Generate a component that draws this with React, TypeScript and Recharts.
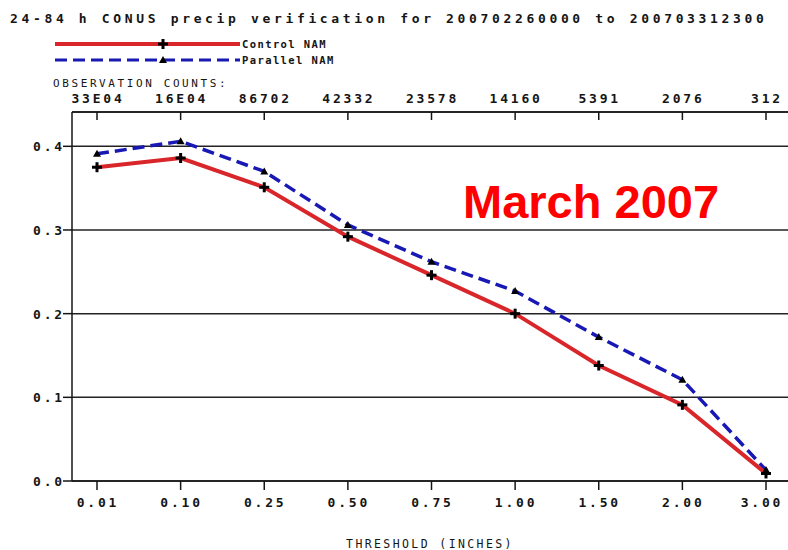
import React from 'react';
import { LineChart, Line, XAxis, YAxis, CartesianGrid } from 'recharts';

const categories = ['0.01', '0.10', '0.25', '0.50', '0.75', '1.00', '1.50', '2.00', '3.00'];
const obsCounts = ['33E04', '16E04', '86702', '42332', '23578', '14160', '5391', '2076', '312'];
const controlNam = [0.375, 0.386, 0.351, 0.292, 0.246, 0.2, 0.138, 0.091, 0.009];
const parallelNam = [0.391, 0.406, 0.37, 0.306, 0.262, 0.227, 0.172, 0.121, 0.013];
const yTicks = [0, 0.1, 0.2, 0.3, 0.4];

const data = categories.map((c, i) => ({ cat: c, control: controlNam[i], parallel: parallelNam[i] }));

const MONO = '"DejaVu Sans Mono", monospace';
const RED = '#d8262a';
const BLUE = '#1818b4';
const INK = '#151515';

const PlusDot = (props: any) => {
  const { cx, cy } = props;
  if (cx == null || cy == null) return null;
  return (
    <g>
      <line x1={cx - 5} y1={cy} x2={cx + 5} y2={cy} stroke="#000" strokeWidth={3} />
      <line x1={cx} y1={cy - 5} x2={cx} y2={cy + 5} stroke="#000" strokeWidth={3} />
    </g>
  );
};

const TriDot = (props: any) => {
  const { cx, cy } = props;
  if (cx == null || cy == null) return null;
  return <polygon points={`${cx - 4},${cy + 3} ${cx + 4},${cy + 3} ${cx},${cy - 4}`} fill="#000" />;
};

const BottomTick = (props: any) => {
  const { x, y, payload, index } = props;
  const shift = index === categories.length - 1 ? -4 : 1;
  return (
    <text x={x + shift} y={y + 17} textAnchor="middle" fontFamily={MONO} fontWeight="bold" fontSize={13} letterSpacing={2.8} fill={INK}>
      {payload.value}
    </text>
  );
};

const TopTick = (props: any) => {
  const { x, y, index } = props;
  return (
    <g>
      <line x1={x} y1={y} x2={x} y2={y + 8} stroke={INK} strokeWidth={1.5} />
      <text x={x + 1} y={y - 9} textAnchor="middle" fontFamily={MONO} fontWeight="bold" fontSize={13} letterSpacing={2.8} fill={INK}>
        {obsCounts[index]}
      </text>
    </g>
  );
};

const LeftTick = (props: any) => {
  const { x, y, payload } = props;
  return (
    <text x={x + 2} y={y + 5} textAnchor="end" fontFamily={MONO} fontWeight="bold" fontSize={13} letterSpacing={2.8} fill={INK}>
      {payload.value.toFixed(1)}
    </text>
  );
};

export default function App() {
  return (
    <div style={{ position: 'absolute', left: 0, top: 0, width: 788, height: 550, background: '#fff' }}>
      <LineChart width={788} height={550} data={data} margin={{ top: 82, right: 0, bottom: 39, left: 0 }}>
        <CartesianGrid vertical={false} stroke="#222" strokeWidth={1.5} />
        <XAxis
          xAxisId="top"
          orientation="top"
          dataKey="cat"
          height={30}
          padding={{ left: 25, right: 22 }}
          axisLine={{ stroke: INK, strokeWidth: 1.5 }}
          tickLine={false}
          tickSize={0}
          tickMargin={0}
          tick={<TopTick />}
          interval={0}
        />
        <XAxis
          dataKey="cat"
          height={30}
          padding={{ left: 25, right: 22 }}
          axisLine={{ stroke: INK, strokeWidth: 1.5 }}
          tickLine={{ stroke: INK, strokeWidth: 1.5 }}
          tickSize={9}
          tickMargin={0}
          tick={<BottomTick />}
          interval={0}
          label={{ value: 'THRESHOLD (INCHES)', position: 'insideBottom', offset: -37, fontFamily: MONO, fontSize: 11.5, letterSpacing: 2.4, fill: INK }}
        />
        <YAxis
          width={72}
          domain={[0, 0.441]}
          ticks={yTicks}
          axisLine={{ stroke: INK, strokeWidth: 1.5 }}
          tickLine={{ stroke: INK, strokeWidth: 1.5 }}
          tickSize={9}
          tickMargin={0}
          tick={<LeftTick />}
          interval={0}
        />
        <Line
          dataKey="parallel"
          stroke={BLUE}
          strokeWidth={3.5}
          strokeDasharray="12 6"
          dot={<TriDot />}
          activeDot={false}
          isAnimationActive={false}
        />
        <Line
          dataKey="control"
          stroke={RED}
          strokeWidth={4}
          dot={<PlusDot />}
          activeDot={false}
          isAnimationActive={false}
        />
      </LineChart>
      <svg width={788} height={110} style={{ position: 'absolute', left: 0, top: 0, pointerEvents: 'none' }}>
        <text x={10} y={23} fontFamily={MONO} fontWeight="bold" fontSize={13} letterSpacing={3.65} fill={INK}>
          24-84 h CONUS precip verification for 200702260000 to 200703312300
        </text>
        <line x1={55} y1={44} x2={240} y2={44} stroke={RED} strokeWidth={4} />
        <PlusDot cx={163} cy={44} />
        <text x={242} y={48} fontFamily={MONO} fontWeight="bold" fontSize={10.5} letterSpacing={1.4} fill={INK}>Control NAM</text>
        <line x1={55} y1={60} x2={240} y2={60} stroke={BLUE} strokeWidth={3} strokeDasharray="12 6" />
        <TriDot cx={163} cy={60} />
        <text x={242} y={64} fontFamily={MONO} fontWeight="bold" fontSize={10.5} letterSpacing={1.4} fill={INK}>Parallel NAM</text>
        <text x={53} y={87} fontFamily={MONO} fontSize={11} letterSpacing={2.6} fill={INK}>OBSERVATION COUNTS:</text>
      </svg>
      <div
        style={{
          position: 'absolute',
          left: 463,
          top: 174,
          fontFamily: '"Liberation Sans", Arial, sans-serif',
          fontWeight: 'bold',
          fontSize: 47,
          color: '#ff0000',
          lineHeight: '56px',
          whiteSpace: 'nowrap',
        }}
      >
        March 2007
      </div>
    </div>
  );
}
